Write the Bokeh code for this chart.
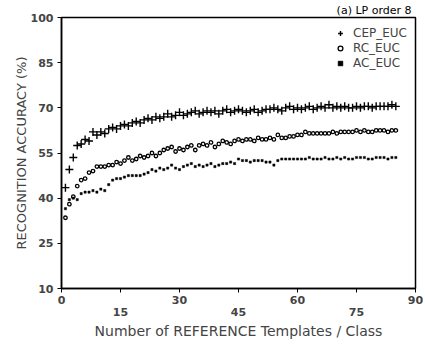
from bokeh.plotting import figure
from bokeh.models import FixedTicker, LinearAxis, Range1d, Legend, LegendItem, Title
from bokeh.embed import file_html
from bokeh.resources import INLINE

# ---- data -------------------------------------------------------------
templates = list(range(1, 86))

cep_euc = [43.5, 49.5, 53.5, 57.5, 58, 59.5, 59, 62, 61, 62,
           61.5, 63, 63.5, 63, 64, 64.5, 64, 65, 65.5, 65,
           66, 66.5, 66, 67, 66.5, 67, 68, 67, 67.5, 68.5,
           67.5, 68, 68.5, 69, 68, 68.5, 69, 68.5, 69, 68,
           69, 69.5, 68.5, 69, 69.5, 69, 68.5, 69, 69.5, 68.5,
           69, 69.5, 69.5, 70, 69.5, 69, 70, 70.5, 69.5, 70,
           69.5, 70, 70.5, 69.5, 70, 70.5, 70, 71, 70, 70.5,
           70, 70.5, 70, 70, 70.5, 70, 70.5, 70.5, 70, 70.5,
           70.5, 70.5, 70.5, 71, 70.5]

rc_euc = [33.5, 38, 40.5, 44, 46, 46.5, 48.5, 49, 50.5, 50.5,
          50.5, 51, 51, 52, 51.5, 52.5, 53.5, 52.5, 53, 54,
          53.5, 54, 55, 54, 55, 56, 56.5, 57, 55.5, 56.5,
          56, 57, 57.5, 56, 57.5, 58, 57.5, 58.5, 57, 58,
          59, 58.5, 58, 59, 59.5, 59, 59.5, 59.5, 59, 60,
          59.5, 59.5, 60, 59.5, 61, 60, 60, 60.5, 60.5, 61,
          61, 62, 61.5, 61.5, 61.5, 61.5, 61.5, 61.5, 62, 61.5,
          62, 62, 62, 62, 62.5, 62, 62.5, 62, 62, 62.5,
          62.5, 62.5, 62, 62.5, 62.5]

ac_euc = [36.5, 39.5, 40, 39.5, 41.5, 42, 42, 42.5, 42, 43,
          42.5, 44.5, 46, 46.5, 46.5, 47, 47.5, 47.5, 47.5, 47.5,
          48, 48.5, 49.5, 49, 50, 49.5, 50, 51, 50, 49.5,
          50.5, 51, 51.5, 50.5, 51, 50.5, 51, 51.5, 50.5, 51,
          51.5, 51.5, 52, 51.5, 53, 52.5, 52.5, 52, 52.5, 52.5,
          52.5, 52, 52, 51, 52.5, 53, 53, 53, 53, 53,
          53, 53, 53.5, 53, 53, 53, 53.5, 53, 53, 53.5,
          53, 53.5, 53, 53, 53.5, 53.5, 53.5, 53, 53, 53.5,
          53.5, 53.5, 53, 53.5, 53.5]

x_ticks = [0, 15, 30, 45, 60, 75, 90]
x_ticks_lower_row = [15, 45, 75]
y_ticks = [10, 25, 40, 55, 70, 85, 100]

FONT = "DejaVu Sans"

# ---- figure -------------------------------------------------------------
p = figure(width=423, height=346, x_range=Range1d(0, 90), y_range=Range1d(10, 100),
           output_backend="svg", toolbar_location=None, x_axis_location=None,
           min_border_left=61, min_border_top=15, min_border_right=8, min_border_bottom=58)
p.grid.visible = False
p.outline_line_color = "black"
p.outline_line_width = 1.5
p.background_fill_color = "white"
p.border_fill_color = "white"

p.title = Title(text="(a) LP order 8", align="right", offset=4, standoff=2,
                text_font=FONT, text_font_size="11px", text_font_style="normal",
                text_color="black")

# y axis
ya = p.yaxis[0]
ya.ticker = FixedTicker(ticks=y_ticks)
ya.major_tick_out = 4
ya.major_tick_in = 0
ya.minor_tick_line_color = None
ya.axis_line_width = 1.5
ya.major_label_standoff = 4
ya.major_label_text_font = FONT
ya.major_label_text_font_style = "bold"
ya.major_label_text_font_size = "11px"
ya.axis_label = "RECOGNITION ACCURACY (%)"
ya.axis_label_text_font = FONT
ya.axis_label_text_font_style = "normal"
ya.axis_label_text_font_size = "13px"
ya.axis_label_standoff = -1

# x axis: staggered labels (15/45/75 on a second line)
xa = LinearAxis(ticker=FixedTicker(ticks=x_ticks))
xa.major_label_overrides = {t: "\n" + str(t) for t in x_ticks_lower_row}
xa.major_tick_out = 4
xa.major_tick_in = 0
xa.minor_tick_line_color = None
xa.axis_line_width = 1.5
xa.major_label_standoff = 1
xa.major_label_text_font = FONT
xa.major_label_text_font_style = "bold"
xa.major_label_text_font_size = "11px"
xa.major_label_text_line_height = 0.95
xa.axis_label = "Number of REFERENCE Templates / Class"
xa.axis_label_text_font = FONT
xa.axis_label_text_font_style = "normal"
xa.axis_label_text_font_size = "14px"
xa.axis_label_standoff = 1
p.add_layout(xa, "below")

# ---- data marks -----------------------------------------------------------
r_cep = p.scatter(templates, cep_euc, marker="cross", size=8, line_color="black", line_width=1.4)
r_rc = p.scatter(templates, rc_euc, marker="circle", size=3.5, line_color="black",
                 fill_color="white", line_width=1.3)
r_ac = p.scatter(templates, ac_euc, marker="square", size=2.2, line_color="black",
                 fill_color="black", line_width=0.5)

legend = Legend(items=[LegendItem(label="CEP_EUC", renderers=[r_cep]),
                       LegendItem(label="RC_EUC", renderers=[r_rc]),
                       LegendItem(label="AC_EUC", renderers=[r_ac])],
                location=(269, 214))
legend.background_fill_alpha = 0
legend.border_line_alpha = 0
legend.label_text_font = FONT
legend.label_text_font_size = "12px"
legend.label_height = 14
legend.glyph_height = 14
legend.glyph_width = 12
legend.spacing = 1
legend.padding = 4
legend.margin = 0
legend.label_standoff = 7
p.add_layout(legend)

open("out.html", "w").write(file_html(p, INLINE))
